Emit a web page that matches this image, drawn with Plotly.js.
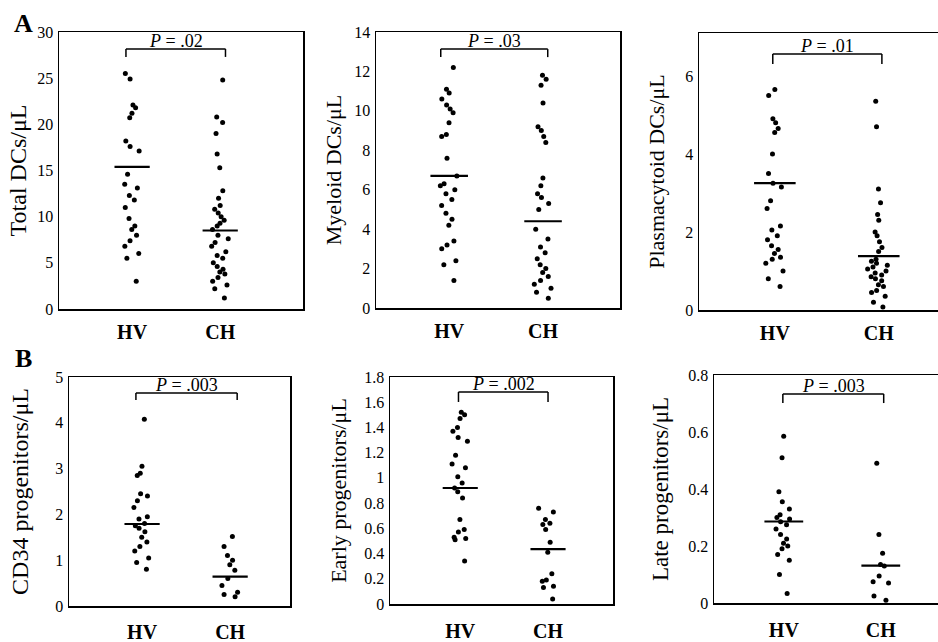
<!DOCTYPE html>
<html>
<head>
<meta charset="utf-8">
<script src="https://cdn.plot.ly/plotly-3.0.1.min.js"></script>
<style>html,body{margin:0;padding:0;background:#fff;}#chart{width:938px;height:642px;}</style>
</head>
<body>
<div id="chart"></div>
<script>
// ---- data ----
const groups = ['HV', 'CH'];

const totalHV = [25.5, 24.9, 22.1, 21.8, 21.2, 20.7, 18.2, 17.6, 17.1, 14.6, 13.5, 13.1, 12.3, 11.8, 11.0, 9.8, 9.0, 8.6, 8.0, 7.4, 6.8, 6.0, 5.5, 3.0];
const totalCH = [24.8, 20.8, 20.2, 19.0, 16.8, 15.3, 12.8, 12.0, 11.2, 10.8, 10.4, 10.0, 9.6, 9.3, 9.0, 8.6, 8.0, 7.6, 7.2, 6.8, 6.2, 5.8, 5.5, 5.0, 4.6, 4.3, 4.0, 3.8, 3.4, 3.0, 2.6, 2.2, 1.2];
const totalBar = [15.4, 8.5];

const myeloidHV = [12.2, 11.1, 10.9, 10.6, 10.3, 10.1, 9.9, 9.4, 8.8, 8.7, 7.6, 6.7, 6.3, 6.2, 6.0, 5.8, 5.5, 5.2, 4.8, 4.5, 4.2, 3.4, 3.2, 3.0, 2.4, 2.2, 1.4];
const myeloidCH = [11.8, 11.6, 11.3, 10.4, 9.2, 9.0, 8.7, 8.4, 6.6, 6.2, 5.8, 5.6, 5.3, 5.0, 4.0, 3.5, 3.1, 2.8, 2.5, 2.2, 2.0, 1.8, 1.6, 1.4, 1.2, 1.0, 0.8, 0.5];
const myeloidBar = [6.7, 4.4];

const plasmaHV = [5.65, 5.5, 4.9, 4.8, 4.65, 4.55, 4.0, 3.5, 3.25, 3.15, 2.8, 2.6, 2.15, 2.05, 1.9, 1.8, 1.65, 1.55, 1.45, 1.35, 1.3, 1.2, 1.0, 0.8, 0.6];
const plasmaCH = [5.35, 4.7, 3.1, 2.75, 2.45, 2.3, 2.0, 1.9, 1.75, 1.6, 1.5, 1.3, 1.25, 1.2, 1.15, 1.1, 1.05, 1.0, 0.95, 0.9, 0.85, 0.8, 0.75, 0.65, 0.6, 0.5, 0.45, 0.35, 0.2, 0.08];
const plasmaBar = [3.25, 1.38];

const cd34HV = [4.08, 3.05, 2.9, 2.85, 2.45, 2.4, 2.3, 2.15, 1.95, 1.9, 1.8, 1.75, 1.7, 1.62, 1.5, 1.4, 1.3, 1.2, 1.05, 0.95, 0.8];
const cd34CH = [1.52, 1.3, 1.1, 1.0, 0.9, 0.78, 0.6, 0.45, 0.3, 0.25, 0.2];
const cd34Bar = [1.79, 0.64];

const earlyHV = [1.52, 1.5, 1.47, 1.4, 1.37, 1.32, 1.29, 1.18, 1.11, 1.08, 1.01, 0.96, 0.92, 0.89, 0.84, 0.67, 0.59, 0.57, 0.53, 0.52, 0.51, 0.34];
const earlyCH = [0.76, 0.73, 0.67, 0.64, 0.63, 0.59, 0.49, 0.41, 0.24, 0.19, 0.18, 0.14, 0.13, 0.04];
const earlyBar = [0.92, 0.435];

const lateHV = [0.585, 0.51, 0.39, 0.355, 0.33, 0.31, 0.3, 0.295, 0.285, 0.275, 0.26, 0.24, 0.225, 0.21, 0.2, 0.19, 0.17, 0.15, 0.1, 0.033];
const lateCH = [0.49, 0.24, 0.175, 0.135, 0.13, 0.095, 0.075, 0.07, 0.025, 0.01];
const lateBar = [0.286, 0.131];

const yTitles = ['Total DCs/μL', 'Myeloid DCs/μL', 'Plasmacytoid DCs/μL', 'CD34 progenitors/μL', 'Early progenitors/μL', 'Late progenitors/μL'];
const pLabels = ['.02', '.03', '.01', '.003', '.002', '.003'];
const yTickVals = [
  [0, 5, 10, 15, 20, 25, 30],
  [0, 2, 4, 6, 8, 10, 12, 14],
  [0, 2, 4, 6],
  [0, 1, 2, 3, 4, 5],
  [0, 0.2, 0.4, 0.6, 0.8, 1, 1.2, 1.4, 1.6, 1.8],
  [0, 0.2, 0.4, 0.6, 0.8]
];

// ---- layout config (positions / styles) ----
const W = 938, H = 642;
const panels = [
  {hv: totalHV, ch: totalCH, bar: totalBar, px: [59, 303], py: [32, 309], xr: [0.17, 2.94], yr: [0, 30], br: [0.93, 2.06], bt: 0.939, bb: 0.91, tfs: 24, st: 4, xs: 4},
  {hv: myeloidHV, ch: myeloidCH, bar: myeloidBar, px: [376, 620], py: [32, 308], xr: [0.22, 2.82], yr: [0, 14], br: [0.91, 2.05], bt: 0.938, bb: 0.909, tfs: 22, st: 6, xs: 4},
  {hv: plasmaHV, ch: plasmaCH, bar: plasmaBar, px: [699, 938], py: [33, 310], xr: [0.27, 2.57], yr: [0, 7.1], br: [0.98, 2.03], bt: 0.924, bb: 0.888, tfs: 22, st: 14, xs: 4},
  {hv: cd34HV, ch: cd34CH, bar: cd34Bar, px: [69, 290], py: [377, 606], xr: [0.17, 2.68], yr: [0, 5], br: [0.93, 2.08], bt: 0.93, bb: 0.90, tfs: 24, st: 20, xs: 7},
  {hv: earlyHV, ch: earlyCH, bar: earlyBar, px: [390, 613], py: [377, 604], xr: [0.2, 2.74], yr: [0, 1.8], br: [0.98, 2.0], bt: 0.934, bb: 0.89, tfs: 22, st: 11, xs: 8},
  {hv: lateHV, ch: lateCH, bar: lateBar, px: [714, 938], py: [375, 603], xr: [0.28, 2.59], yr: [0, 0.8], br: [0.99, 2.03], bt: 0.917, bb: 0.877, tfs: 23, st: 13, xs: 8}
];

const FONT = 'Liberation Serif';
const data = [];
const layout = {
  width: W, height: H,
  margin: {l: 0, r: 0, t: 0, b: 0},
  paper_bgcolor: '#fff', plot_bgcolor: '#fff',
  showlegend: false,
  font: {family: FONT, color: '#000'},
  shapes: [], annotations: []
};

panels.forEach((p, i) => {
  const n = i + 1;
  const xa = 'x' + (n === 1 ? '' : n), ya = 'y' + (n === 1 ? '' : n);
  const xk = 'xaxis' + (n === 1 ? '' : n), yk = 'yaxis' + (n === 1 ? '' : n);
  [p.hv, p.ch].forEach((vals, g) => {
    data.push({
      type: 'box', x0: g + 1, y: vals, name: groups[g], xaxis: xa, yaxis: ya,
      boxpoints: 'all', jitter: 0.55, pointpos: 0, width: 0.4,
      fillcolor: 'rgba(0,0,0,0)', line: {color: 'rgba(0,0,0,0)', width: 0},
      marker: {color: '#000', size: 5}, hoverinfo: 'y'
    });
  });
  data.push({
    type: 'scatter', mode: 'lines', xaxis: xa, yaxis: ya, hoverinfo: 'skip',
    x: [0.8, 1.2, null, 1.8, 2.2],
    y: [p.bar[0], p.bar[0], null, p.bar[1], p.bar[1]],
    line: {color: '#000', width: 2.2}
  });
  layout[xk] = {
    type: 'linear', domain: [p.px[0] / W, p.px[1] / W], range: p.xr, anchor: ya,
    tickvals: [1, 2], ticktext: groups.map(g => '<b>' + g + '</b>'), ticks: '', ticklabelstandoff: p.xs,
    tickfont: {family: FONT, size: 20, color: '#000'},
    showline: true, mirror: true, linecolor: '#000', linewidth: 1.5,
    showgrid: false, zeroline: false, fixedrange: true
  };
  layout[yk] = {
    type: 'linear', domain: [1 - p.py[1] / H, 1 - p.py[0] / H], range: p.yr, anchor: xa,
    tickvals: yTickVals[i], ticks: '', ticklabelstandoff: 1,
    tickfont: {family: FONT, size: 16, color: '#000'},
    showline: true, mirror: true, linecolor: '#000', linewidth: 1.5,
    showgrid: false, zeroline: false, fixedrange: true,
    title: {text: yTitles[i], font: {family: FONT, size: p.tfs, color: '#000'}, standoff: p.st}
  };
  const ydr = ya + ' domain';
  const ln = {color: '#000', width: 1.5};
  layout.shapes.push(
    {type: 'line', xref: xa, yref: ydr, x0: p.br[0], x1: p.br[1], y0: p.bt, y1: p.bt, line: ln},
    {type: 'line', xref: xa, yref: ydr, x0: p.br[0], x1: p.br[0], y0: p.bt, y1: p.bb, line: ln},
    {type: 'line', xref: xa, yref: ydr, x0: p.br[1], x1: p.br[1], y0: p.bt, y1: p.bb, line: ln}
  );
  layout.annotations.push({
    xref: xa, yref: ydr, x: (p.br[0] + p.br[1]) / 2, y: p.bt, yanchor: 'bottom', yshift: -4,
    showarrow: false, text: '<i>P</i> = ' + pLabels[i],
    font: {family: FONT, size: 18, color: '#000'}
  });
});

layout.annotations.push(
  {xref: 'paper', yref: 'paper', x: 12 / W, y: 1 - 7 / H, xanchor: 'left', yanchor: 'top', showarrow: false,
   text: '<b>A</b>', font: {family: FONT, size: 26, color: '#000'}},
  {xref: 'paper', yref: 'paper', x: 13 / W, y: 1 - 342 / H, xanchor: 'left', yanchor: 'top', showarrow: false,
   text: '<b>B</b>', font: {family: FONT, size: 26, color: '#000'}}
);

Plotly.newPlot('chart', data, layout, {displayModeBar: false, staticPlot: true});
</script>
</body>
</html>
